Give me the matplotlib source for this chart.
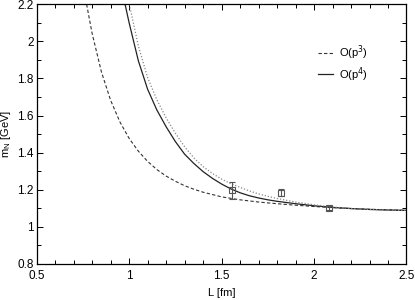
import matplotlib.pyplot as plt
from matplotlib.ticker import MultipleLocator

plt.rcParams['font.family'] = ['Liberation Sans', 'DejaVu Sans']

# curves: L [fm], m_N [GeV]
L_p3 = [0.77, 0.80, 0.85, 0.90, 0.95, 1.00, 1.05, 1.10, 1.15, 1.20, 1.25, 1.30, 1.35, 1.40,
        1.50, 1.60, 1.70, 1.80, 1.90, 2.00, 2.10, 2.20, 2.30, 2.40, 2.50]
m_p3 = [2.200, 2.042, 1.836, 1.682, 1.566, 1.477, 1.408, 1.353, 1.309, 1.274, 1.246, 1.222, 1.203, 1.187,
        1.162, 1.146, 1.134, 1.125, 1.117, 1.110, 1.104, 1.099, 1.095, 1.092, 1.089]

L_p4 = [0.978, 1.00, 1.05, 1.10, 1.15, 1.20, 1.25, 1.30, 1.35, 1.40, 1.45, 1.50, 1.55, 1.60,
        1.65, 1.70, 1.75, 1.80, 1.90, 2.00, 2.10, 2.20, 2.30, 2.40, 2.50]
m_p4 = [2.200, 2.100, 1.895, 1.742, 1.630, 1.540, 1.460, 1.392, 1.342, 1.298, 1.262, 1.231, 1.205, 1.184,
        1.168, 1.156, 1.146, 1.138, 1.125, 1.114, 1.105, 1.099, 1.094, 1.091, 1.089]

L_dot = [1.001, 1.05, 1.10, 1.15, 1.20, 1.25, 1.30, 1.35, 1.40, 1.45, 1.50, 1.55, 1.60, 1.65,
         1.70, 1.75, 1.80, 1.90, 2.00, 2.10, 2.20, 2.30, 2.40, 2.50]
m_dot = [2.200, 1.975, 1.805, 1.685, 1.588, 1.505, 1.432, 1.372, 1.325, 1.288, 1.258, 1.233, 1.213, 1.194,
         1.178, 1.165, 1.153, 1.134, 1.119, 1.107, 1.099, 1.094, 1.091, 1.089]

# lattice points
L_data = [1.558, 1.819, 2.083]
m_data = [1.198, 1.184, 1.103]
m_err = [0.045, 0.020, 0.012]

fig = plt.figure(figsize=(4.15, 3.0), dpi=100)
ax = fig.add_axes([0.0884, 0.12, 0.8911, 0.8657])

ax.plot(L_p3, m_p3, color='#333333', lw=0.8, ls=(0, (3, 2)), label='O(p$^3$)')
ax.plot(L_p4, m_p4, color='#222222', lw=0.9, ls='-', label='O(p$^4$)')
ax.plot(L_dot, m_dot, color='#888888', lw=0.9, ls=(0, (1, 1.5)))
ax.errorbar(L_data, m_data, yerr=m_err, fmt='s', ms=4, mfc='none', mec='#555555',
            ecolor='#555555', elinewidth=0.8, capsize=2.5, capthick=0.8, mew=0.8)

ax.set_xlim(0.5, 2.5)
ax.set_ylim(0.8, 2.2)
ax.xaxis.set_major_locator(MultipleLocator(0.5))
ax.xaxis.set_minor_locator(MultipleLocator(0.1))
ax.yaxis.set_major_locator(MultipleLocator(0.2))
ax.yaxis.set_minor_locator(MultipleLocator(0.1))
ax.tick_params(which='both', direction='in', top=True, right=True, labelsize=8.5)
ax.tick_params(axis='x', pad=4)
ax.tick_params(axis='y', pad=2)
ax.tick_params(which='major', length=4.3, width=0.7)
ax.tick_params(which='minor', length=3.0, width=0.7)
ax.xaxis.set_major_formatter(plt.FuncFormatter(lambda v, p: '%g' % v))
ax.yaxis.set_major_formatter(plt.FuncFormatter(lambda v, p: '%g' % v))
for s in ax.spines.values():
    s.set_linewidth(0.9)

ax.set_xlabel('L [fm]', fontsize=8, labelpad=5)
ax.set_ylabel('m$_\\mathregular{N}$ [GeV]', fontsize=8, labelpad=3)

ax.legend(loc='upper left', bbox_to_anchor=(0.76, 0.85), frameon=False, fontsize=8,
          handlelength=1.35, handletextpad=0.6, labelspacing=0.3,
          borderpad=0, borderaxespad=0)

fig.savefig('out.png', dpi=100)
